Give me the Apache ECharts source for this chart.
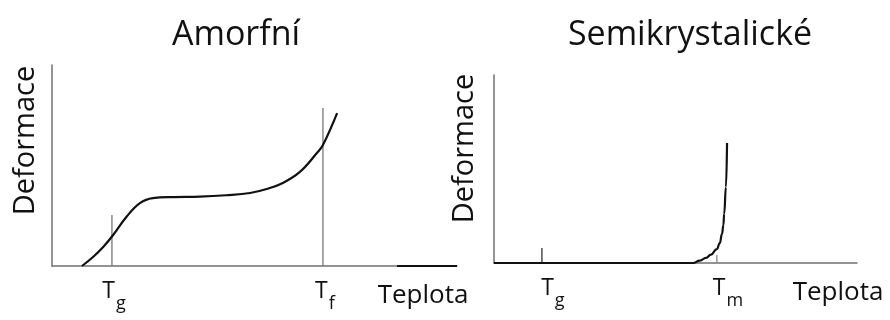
<!DOCTYPE html>
<html>
<head>
<meta charset="utf-8">
<script src="https://cdn.jsdelivr.net/npm/echarts@6/dist/echarts.min.js"></script>
<style>html,body{margin:0;padding:0;background:#fff;}#c{width:890px;height:320px;}</style>
</head>
<body>
<div id="c"></div>
<script>
// ---- data ----
const titles = ['Amorfní', 'Semikrystalické'];
const axisNameY = 'Deformace';
const axisNameX = 'Teplota';

// Amorphous curve (temperature, deformation), arbitrary units 0..100
const amorfX = [7.4, 10.2, 12.7, 15.1, 18.4, 21.7, 24.9, 30, 36.5, 43, 48.9, 53, 57.0, 61.2, 65.4, 66.9, 70.4];
const amorfY = [0, 4.6, 9.6, 15.4, 24.5, 31.3, 33.8, 34.3, 34.5, 35.2, 36.3, 38.3, 41.3, 46.8, 56.2, 60.2, 76.1];
const amorfTickValues = [14.8, 66.9];
const amorfTickSubs = ['g', 'f'];
const amorfMarkerHeights = [25.4, 78.6];
const amorfBaseSegment = [85.2, 100];

// Semicrystalline curve
const semiX = [0, 20, 40, 54.8, 56.7, 58.4, 59.8, 61.4, 62.2, 62.8, 63.2, 63.4, 63.9, 64.2];
const semiY = [0, 0, 0, 0, 1.3, 2.7, 4.5, 7.4, 10.6, 15.4, 20.2, 26.1, 40.4, 63.8];
const semiTickValues = [13.2, 61.4];
const semiTickSubs = ['g', 'm'];
const semiMarkerHeights = [8.0, 4.3];

// ---- build ----
const FONT = 'Open Sans';
const pairs = (xs, ys) => xs.map((x, i) => [x, ys[i]]);
const labelFmt = (vals, subs) => (v) => {
  let best = 0;
  vals.forEach((t, i) => { if (Math.abs(t - v) < Math.abs(vals[best] - v)) best = i; });
  return '{t|T}{s|' + subs[best] + '}';
};
const rich = {
  t: { fontFamily: FONT, fontSize: 23, color: '#111', verticalAlign: 'top', lineHeight: 34 },
  s: { fontFamily: FONT, fontSize: 18, color: '#111', verticalAlign: 'top', lineHeight: 34, padding: [15, 0, 0, 1] }
};
const mkX = (idx, vals, subs, nameGap, labelPad) => ({
  type: 'value', gridIndex: idx, min: 0, max: 100,
  splitLine: { show: false }, axisTick: { show: false },
  axisLine: { show: true, lineStyle: { color: '#707070', width: 1.5 } },
  axisLabel: {
    customValues: vals, formatter: labelFmt(vals, subs), rich: rich, margin: 14,
    padding: labelPad, showMinLabel: true, showMaxLabel: true
  },
  name: axisNameX, nameLocation: 'end', nameGap: nameGap,
  nameTextStyle: { fontFamily: FONT, fontSize: 26, color: '#111', align: 'center', verticalAlign: 'top', padding: [17, 0, 0, 0] }
});
const mkY = (idx, gap, pad) => ({
  type: 'value', gridIndex: idx, min: 0, max: 100,
  splitLine: { show: false }, axisTick: { show: false }, axisLabel: { show: false },
  axisLine: { show: true, lineStyle: { color: '#707070', width: 1.5 } },
  name: axisNameY, nameLocation: 'middle', nameRotate: 90, nameGap: gap,
  nameTextStyle: { fontFamily: FONT, fontSize: 29, color: '#111', padding: pad }
});
const marker = (xi, x, h, color) => ({
  type: 'line', xAxisIndex: xi, yAxisIndex: xi, data: [[x, 0], [x, h]],
  symbol: 'none', silent: true, lineStyle: { color: color, width: 1.3 }
});

const series = [];
amorfTickValues.forEach((x, i) => series.push(marker(0, x, amorfMarkerHeights[i], '#777')));
semiTickValues.forEach((x, i) => series.push(marker(1, x, semiMarkerHeights[i], i === 0 ? '#333' : '#888')));
series.push({
  type: 'line', xAxisIndex: 0, yAxisIndex: 0, data: [[amorfBaseSegment[0], 0], [amorfBaseSegment[1], 0]],
  symbol: 'none', silent: true, lineStyle: { color: '#111', width: 2 }
});
series.push({
  type: 'line', xAxisIndex: 0, yAxisIndex: 0, data: pairs(amorfX, amorfY), smooth: 0.4,
  symbol: 'none', lineStyle: { color: '#111', width: 2.2 }
});
series.push({
  type: 'line', xAxisIndex: 1, yAxisIndex: 1, data: pairs(semiX, semiY), smooth: 0.5, smoothMonotone: 'x',
  symbol: 'none', lineStyle: { color: '#111', width: 2.2 }
});

const chart = echarts.init(document.getElementById('c'), null, { renderer: 'canvas' });
chart.setOption({
  animation: false,
  backgroundColor: '#fff',
  title: [
    { text: titles[0], left: 231, top: 13, textAlign: 'center', textStyle: { fontFamily: FONT, fontSize: 34, fontWeight: 'normal', color: '#111' } },
    { text: titles[1], left: 685, top: 13, textAlign: 'center', textStyle: { fontFamily: FONT, fontSize: 34, fontWeight: 'normal', color: '#111' } }
  ],
  grid: [
    { left: 52, top: 65, width: 405, height: 201 },
    { left: 494, top: 75, width: 363, height: 188 }
  ],
  xAxis: [mkX(0, amorfTickValues, amorfTickSubs, -34, [0, 0, 0, 4]), mkX(1, semiTickValues, semiTickSubs, -19, [0, 0, 0, 22])],
  yAxis: [mkY(0, 12, [0, 0, 0, 50]), mkY(1, 15, [0, 0, 0, 41])],
  series: series
});
</script>
</body>
</html>
